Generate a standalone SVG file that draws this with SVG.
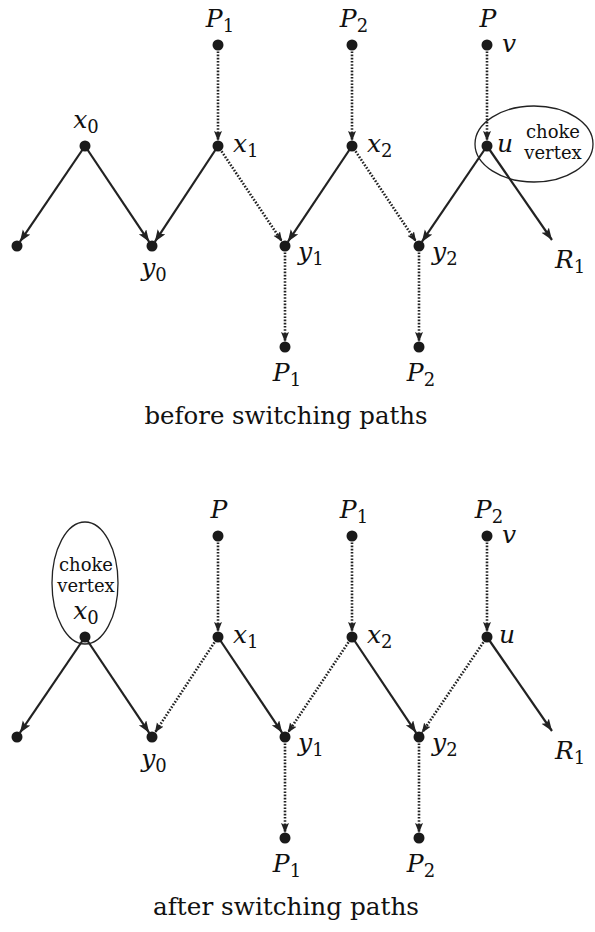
<svg xmlns="http://www.w3.org/2000/svg" width="595" height="932" viewBox="0 0 595 932">
<style>
.s{stroke:#222;stroke-width:2.2;fill:none;marker-end:url(#ah)}
.d{stroke:#222;stroke-width:2.6;stroke-dasharray:1.6 1.6;fill:none;marker-end:url(#ad)}
.n{fill:#1a1a1a}
.m{font-family:"DejaVu Serif","Liberation Serif",serif;font-style:italic;font-size:25px;fill:#111}
.sub{font-style:normal;font-size:18px}
.r{font-family:"DejaVu Serif","Liberation Serif",serif;font-size:25px;fill:#111}
.c{font-family:"DejaVu Serif","Liberation Serif",serif;font-size:18px;fill:#111;text-anchor:middle}
.e{fill:none;stroke:#222;stroke-width:1.3}
</style>
<defs>
<marker id="ah" markerUnits="userSpaceOnUse" markerWidth="14" markerHeight="10" refX="12" refY="4.5" orient="auto"><path d="M0,0 L12,4.5 L0,9 L2.5,4.5 z" fill="#222"/></marker>
<marker id="ad" markerUnits="userSpaceOnUse" markerWidth="12" markerHeight="10" refX="10" refY="4" orient="auto"><path d="M0,0 L10,4 L0,8 L2,4 z" fill="#222"/></marker>
</defs>

<g id="top">
<g id="connectors-top">
<line class="s" x1="85" y1="146" x2="19.8" y2="241.9"/>
<line class="s" x1="85" y1="146" x2="149.2" y2="241.8"/>
<line class="s" x1="218" y1="146" x2="154.8" y2="241.8"/>
<line class="d" x1="218" y1="45" x2="218" y2="141"/>
<line class="d" x1="218" y1="146" x2="282.2" y2="241.8"/>
<line class="s" x1="352" y1="146" x2="287.8" y2="241.8"/>
<line class="d" x1="352" y1="45" x2="352" y2="141"/>
<line class="d" x1="352" y1="146" x2="416.2" y2="241.8"/>
<line class="s" x1="487" y1="146" x2="421.8" y2="241.9"/>
<line class="d" x1="487" y1="45" x2="487" y2="141"/>
<line class="s" x1="487" y1="146" x2="552" y2="240"/>
<line class="d" x1="285" y1="246" x2="285" y2="342"/>
<line class="d" x1="419" y1="246" x2="419" y2="342"/>
</g>
<g id="t-P1top"><circle class="n" cx="218" cy="45" r="5.5"/><text class="m" x="220" y="27" text-anchor="middle">P<tspan class="sub" dy="5">1</tspan></text></g>
<g id="t-P2top"><circle class="n" cx="352" cy="45" r="5.5"/><text class="m" x="354" y="27" text-anchor="middle">P<tspan class="sub" dy="5">2</tspan></text></g>
<g id="t-v"><circle class="n" cx="487" cy="45" r="5.5"/><text class="m" x="488" y="27" text-anchor="middle">P</text><text class="m" x="502" y="52">v</text></g>
<g id="t-x0"><circle class="n" cx="85" cy="146" r="5.5"/><text class="m" x="86" y="128" text-anchor="middle">x<tspan class="sub" dy="5">0</tspan></text></g>
<g id="t-x1"><circle class="n" cx="218" cy="146" r="5.5"/><text class="m" x="233" y="152">x<tspan class="sub" dy="5">1</tspan></text></g>
<g id="t-x2"><circle class="n" cx="352" cy="146" r="5.5"/><text class="m" x="367" y="152">x<tspan class="sub" dy="5">2</tspan></text></g>
<g id="t-u"><circle class="n" cx="487" cy="146" r="5.5"/><text class="m" x="497" y="152">u</text>
<ellipse class="e" cx="534" cy="144" rx="59" ry="38"/><text class="c" x="553" y="138">choke</text><text class="c" x="553" y="159">vertex</text></g>
<g id="t-L"><circle class="n" cx="17" cy="246" r="5.5"/></g>
<g id="t-y0"><circle class="n" cx="152" cy="246" r="5.5"/><text class="m" x="154" y="276" text-anchor="middle">y<tspan class="sub" dy="5">0</tspan></text></g>
<g id="t-y1"><circle class="n" cx="285" cy="246" r="5.5"/><text class="m" x="298" y="260">y<tspan class="sub" dy="5">1</tspan></text></g>
<g id="t-y2"><circle class="n" cx="419" cy="246" r="5.5"/><text class="m" x="432" y="260">y<tspan class="sub" dy="5">2</tspan></text></g>
<g id="t-R1"><text class="m" x="555" y="268">R<tspan class="sub" dy="5">1</tspan></text></g>
<g id="t-P1bot"><circle class="n" cx="285" cy="347" r="5.5"/><text class="m" x="287" y="381" text-anchor="middle">P<tspan class="sub" dy="5">1</tspan></text></g>
<g id="t-P2bot"><circle class="n" cx="419" cy="347" r="5.5"/><text class="m" x="421" y="381" text-anchor="middle">P<tspan class="sub" dy="5">2</tspan></text></g>
<text class="r" x="286" y="424" text-anchor="middle" textLength="283" lengthAdjust="spacingAndGlyphs">before switching paths</text>
</g>

<g id="bottom" transform="translate(0,491)">
<g id="connectors-bottom">
<line class="s" x1="85" y1="146" x2="19.8" y2="241.9"/>
<line class="s" x1="85" y1="146" x2="149.2" y2="241.8"/>
<line class="d" x1="218" y1="146" x2="154.8" y2="241.8"/>
<line class="d" x1="218" y1="45" x2="218" y2="141"/>
<line class="s" x1="218" y1="146" x2="282.2" y2="241.8"/>
<line class="d" x1="352" y1="146" x2="287.8" y2="241.8"/>
<line class="d" x1="352" y1="45" x2="352" y2="141"/>
<line class="s" x1="352" y1="146" x2="416.2" y2="241.8"/>
<line class="d" x1="487" y1="146" x2="421.8" y2="241.9"/>
<line class="d" x1="487" y1="45" x2="487" y2="141"/>
<line class="s" x1="487" y1="146" x2="552" y2="240"/>
<line class="d" x1="285" y1="246" x2="285" y2="342"/>
<line class="d" x1="419" y1="246" x2="419" y2="342"/>
</g>
<g id="b-Ptop"><circle class="n" cx="218" cy="45" r="5.5"/><text class="m" x="219" y="27" text-anchor="middle">P</text></g>
<g id="b-P1top"><circle class="n" cx="352" cy="45" r="5.5"/><text class="m" x="354" y="27" text-anchor="middle">P<tspan class="sub" dy="5">1</tspan></text></g>
<g id="b-v"><circle class="n" cx="487" cy="45" r="5.5"/><text class="m" x="489" y="27" text-anchor="middle">P<tspan class="sub" dy="5">2</tspan></text><text class="m" x="502" y="52">v</text></g>
<g id="b-x0"><circle class="n" cx="85" cy="146" r="5.5"/><ellipse class="e" cx="85" cy="92" rx="33" ry="61"/><text class="c" x="86" y="80">choke</text><text class="c" x="86" y="101">vertex</text><text class="m" x="86" y="128" text-anchor="middle">x<tspan class="sub" dy="5">0</tspan></text></g>
<g id="b-x1"><circle class="n" cx="218" cy="146" r="5.5"/><text class="m" x="233" y="152">x<tspan class="sub" dy="5">1</tspan></text></g>
<g id="b-x2"><circle class="n" cx="352" cy="146" r="5.5"/><text class="m" x="367" y="152">x<tspan class="sub" dy="5">2</tspan></text></g>
<g id="b-u"><circle class="n" cx="487" cy="146" r="5.5"/><text class="m" x="499" y="152">u</text></g>
<g id="b-L"><circle class="n" cx="17" cy="246" r="5.5"/></g>
<g id="b-y0"><circle class="n" cx="152" cy="246" r="5.5"/><text class="m" x="154" y="276" text-anchor="middle">y<tspan class="sub" dy="5">0</tspan></text></g>
<g id="b-y1"><circle class="n" cx="285" cy="246" r="5.5"/><text class="m" x="298" y="260">y<tspan class="sub" dy="5">1</tspan></text></g>
<g id="b-y2"><circle class="n" cx="419" cy="246" r="5.5"/><text class="m" x="432" y="260">y<tspan class="sub" dy="5">2</tspan></text></g>
<g id="b-R1"><text class="m" x="555" y="268">R<tspan class="sub" dy="5">1</tspan></text></g>
<g id="b-P1bot"><circle class="n" cx="285" cy="347" r="5.5"/><text class="m" x="287" y="381" text-anchor="middle">P<tspan class="sub" dy="5">1</tspan></text></g>
<g id="b-P2bot"><circle class="n" cx="419" cy="347" r="5.5"/><text class="m" x="421" y="381" text-anchor="middle">P<tspan class="sub" dy="5">2</tspan></text></g>
<text class="r" x="286" y="424" text-anchor="middle" textLength="266" lengthAdjust="spacingAndGlyphs">after switching paths</text>
</g>
</svg>
